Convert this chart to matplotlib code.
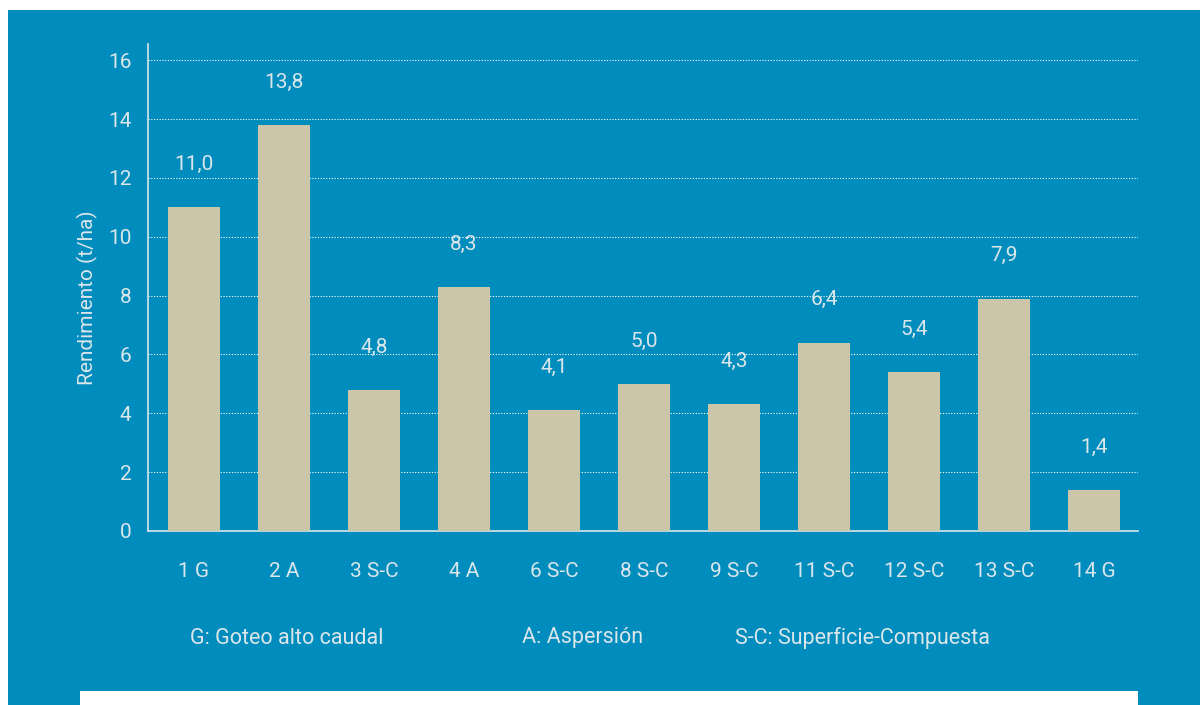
import matplotlib.pyplot as plt
from matplotlib.patches import Rectangle
from matplotlib import font_manager

# Rendimiento por parcela y sistema de riego
parcelas = ["1 G", "2 A", "3 S-C", "4 A", "6 S-C", "8 S-C", "9 S-C",
            "11 S-C", "12 S-C", "13 S-C", "14 G"]
rendimiento = [11.0, 13.8, 4.8, 8.3, 4.1, 5.0, 4.3, 6.4, 5.4, 7.9, 1.4]
yticks = [0, 2, 4, 6, 8, 10, 12, 14, 16]
leyenda = ["G: Goteo alto caudal", "A: Aspersión", "S-C: Superficie-Compuesta"]

BLUE = "#008dbd"
BAR = "#cbc5a9"
TXT = "#dbe6ea"

installed = {f.name for f in font_manager.fontManager.ttflist}
family = [f for f in ["Liberation Sans Narrow", "Roboto", "DejaVu Sans"] if f in installed]
plt.rcParams["font.family"] = family

fig = plt.figure(figsize=(12, 7.05), dpi=100, facecolor="white")

# blue panel with white strip along the bottom
fig.patches.append(Rectangle((8 / 1200, 0), 1, 695 / 705, transform=fig.transFigure,
                             facecolor=BLUE, edgecolor="none", zorder=-2))
fig.patches.append(Rectangle((80 / 1200, 0), (1138 - 80) / 1200, 14 / 705,
                             transform=fig.transFigure, facecolor="white",
                             edgecolor="none", zorder=-1))

ax = fig.add_axes([148 / 1200, 174 / 705, 990 / 1200, 487 / 705])
ax.set_facecolor("none")

x = list(range(len(parcelas)))
ax.bar(x, rendimiento, width=0.578, color=BAR, zorder=3)

for xi, v in zip(x, rendimiento):
    ax.annotate(f"{v:.1f}".replace(".", ","), (xi, v), xytext=(0, 24),
                textcoords="offset points", ha="center", va="bottom",
                color=TXT, fontsize=15)

ax.set_xlim(-0.511, 10.489)
ax.set_ylim(0, 16.55)
ax.set_yticks(yticks)
ax.set_xticks(x)
ax.set_xticklabels(parcelas)
ax.tick_params(axis="both", length=0, colors=TXT, labelsize=15)
ax.tick_params(axis="y", pad=12)
ax.tick_params(axis="x", pad=22)

ax.grid(axis="y", color="white", linestyle=(0, (1, 1.5)), linewidth=0.8, zorder=1)
for s in ["top", "right"]:
    ax.spines[s].set_visible(False)
for s in ["left", "bottom"]:
    ax.spines[s].set_color(TXT)
    ax.spines[s].set_linewidth(1.2)

ax.set_ylabel("Rendimiento (t/ha)", color=TXT, fontsize=15, labelpad=6)
ax.yaxis.set_label_coords(-50 / 990, 0.48)

for txt, xpos in zip(leyenda, [190, 522, 735]):
    fig.text(xpos / 1200, 1 - 638 / 705, txt, color=TXT, fontsize=15.5,
             ha="left", va="center")

fig.savefig("out.png", dpi=100, facecolor="white")
